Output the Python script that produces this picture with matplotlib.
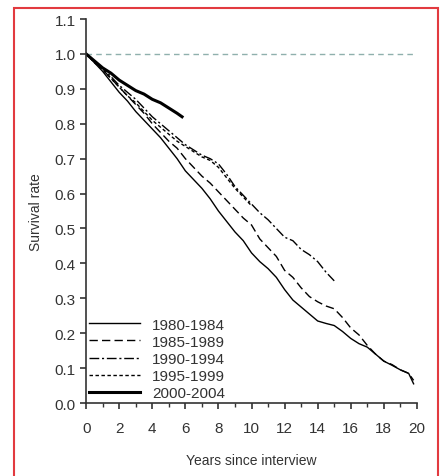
import numpy as np
import matplotlib
matplotlib.use("Agg")
import matplotlib.pyplot as plt
from matplotlib.patches import Rectangle

plt.rcParams['font.family'] = ['Liberation Sans', 'DejaVu Sans']

# region data
t_8084 = [0, 0.5, 1, 1.5, 2, 2.5, 3, 3.5, 4, 4.5, 5, 5.5, 6, 6.5, 7, 7.5, 8, 8.5, 9, 9.5,
          10, 10.5, 11, 11.5, 12, 12.5, 13, 13.5, 14, 14.5, 15, 15.5, 16, 16.5, 17, 17.5,
          18, 18.5, 19, 19.5, 19.8]
s_8084 = [1.0, 0.975, 0.95, 0.92, 0.89, 0.865, 0.835, 0.81, 0.785, 0.76, 0.73, 0.70, 0.665,
          0.64, 0.615, 0.585, 0.55, 0.52, 0.49, 0.465, 0.43, 0.405, 0.385, 0.36, 0.325, 0.295,
          0.275, 0.255, 0.235, 0.228, 0.222, 0.205, 0.185, 0.17, 0.16, 0.14, 0.12, 0.108,
          0.095, 0.085, 0.055]

t_8589 = [0, 0.5, 1, 1.5, 2, 2.5, 3, 3.5, 4, 4.5, 5, 5.5, 6, 6.5, 7, 7.5, 8, 8.5, 9, 9.5,
          10, 10.5, 11, 11.5, 12, 12.5, 13, 13.5, 14, 14.5, 15, 15.5, 16, 16.5, 17, 17.5,
          18, 18.5, 19, 19.5, 19.8]
s_8589 = [1.0, 0.98, 0.955, 0.93, 0.905, 0.88, 0.855, 0.83, 0.80, 0.775, 0.75, 0.73, 0.70,
          0.675, 0.65, 0.63, 0.605, 0.58, 0.555, 0.53, 0.51, 0.47, 0.445, 0.42, 0.38, 0.36,
          0.33, 0.305, 0.29, 0.278, 0.27, 0.245, 0.215, 0.195, 0.165, 0.14, 0.12, 0.11,
          0.095, 0.085, 0.065]

t_9094 = [0, 0.5, 1, 1.5, 2, 2.5, 3, 3.5, 4, 4.5, 5, 5.5, 6, 6.5, 7, 7.5, 8, 8.5, 9, 9.5,
          10, 10.5, 11, 11.5, 12, 12.5, 13, 13.5, 14, 14.5, 15]
s_9094 = [1.0, 0.98, 0.96, 0.935, 0.91, 0.89, 0.87, 0.845, 0.82, 0.80, 0.78, 0.76, 0.74,
          0.725, 0.71, 0.70, 0.685, 0.655, 0.62, 0.595, 0.57, 0.545, 0.525, 0.50, 0.475,
          0.465, 0.44, 0.425, 0.405, 0.375, 0.35]

t_9599 = [0, 0.5, 1, 1.5, 2, 2.5, 3, 3.5, 4, 4.5, 5, 5.5, 6, 6.5, 7, 7.5, 8, 8.5, 9, 9.5, 10]
s_9599 = [1.0, 0.975, 0.955, 0.93, 0.905, 0.88, 0.86, 0.835, 0.81, 0.79, 0.77, 0.75, 0.735,
          0.72, 0.705, 0.695, 0.675, 0.645, 0.615, 0.59, 0.565]

t_0004 = [0, 0.5, 1, 1.5, 2, 2.5, 3, 3.5, 4, 4.5, 5, 5.5, 5.8]
s_0004 = [1.0, 0.98, 0.96, 0.945, 0.925, 0.91, 0.895, 0.885, 0.87, 0.86, 0.845, 0.83, 0.82]

labels = ['1980-1984', '1985-1989', '1990-1994', '1995-1999', '2000-2004']
# endregion

fig = plt.figure(figsize=(4.44, 4.77), dpi=100)
ax = fig.add_axes([0.194, 0.153, 0.745, 0.805])

ax.plot([0, 20], [1.0, 1.0], color='#8fb0ad', lw=1.0, ls=(0, (4, 3)))

ax.plot(t_8084, s_8084, color='black', lw=1.0, ls='-', label=labels[0])
ax.plot(t_8589, s_8589, color='black', lw=1.0, ls=(0, (6, 3)), label=labels[1])
ax.plot(t_9094, s_9094, color='black', lw=1.0, ls=(0, (7, 2, 1.5, 2)), label=labels[2])
ax.plot(t_9599, s_9599, color='black', lw=1.0, ls=(0, (2.5, 1.8)), label=labels[3])
ax.plot(t_0004, s_0004, color='black', lw=2.2, ls='-', label=labels[4])

ax.set_xlim(0, 20)
ax.set_ylim(0, 1.1)
ax.set_xticks(np.arange(0, 21, 2))
ax.set_xticks(np.arange(0, 21, 1), minor=True)
ax.set_yticks(np.arange(0, 1.11, 0.1))
ax.set_yticklabels([f'{v:.1f}' for v in np.arange(0, 1.11, 0.1)])

for side in ['top', 'right']:
    ax.spines[side].set_visible(False)
for side in ['left', 'bottom']:
    ax.spines[side].set_linewidth(1.2)
    ax.spines[side].set_color('#333333')

ax.tick_params(axis='both', which='major', direction='out', length=4, width=1.2,
               labelsize=11, labelcolor='#333333', color='#333333')
ax.tick_params(axis='x', which='minor', direction='out', length=3, width=1.0, color='#333333')
ax.tick_params(axis='x', pad=9)

ax.set_xlabel('Years since interview', fontsize=10, color='#333333', labelpad=13)
ax.set_ylabel('Survival rate', fontsize=10, color='#333333', labelpad=8)

ax.legend(loc='lower left', bbox_to_anchor=(0.0, 0.0), frameon=False, fontsize=11,
          handlelength=3.3, handletextpad=0.8, labelspacing=0.2, borderpad=0.1,
          borderaxespad=0.1, labelcolor='#333333')

fig.patches.append(Rectangle((0.0315, -0.02), 0.955, 1.0015, transform=fig.transFigure,
                             fill=False, edgecolor='#e23a3f', lw=1.5))

fig.savefig('out.png', dpi=100)
